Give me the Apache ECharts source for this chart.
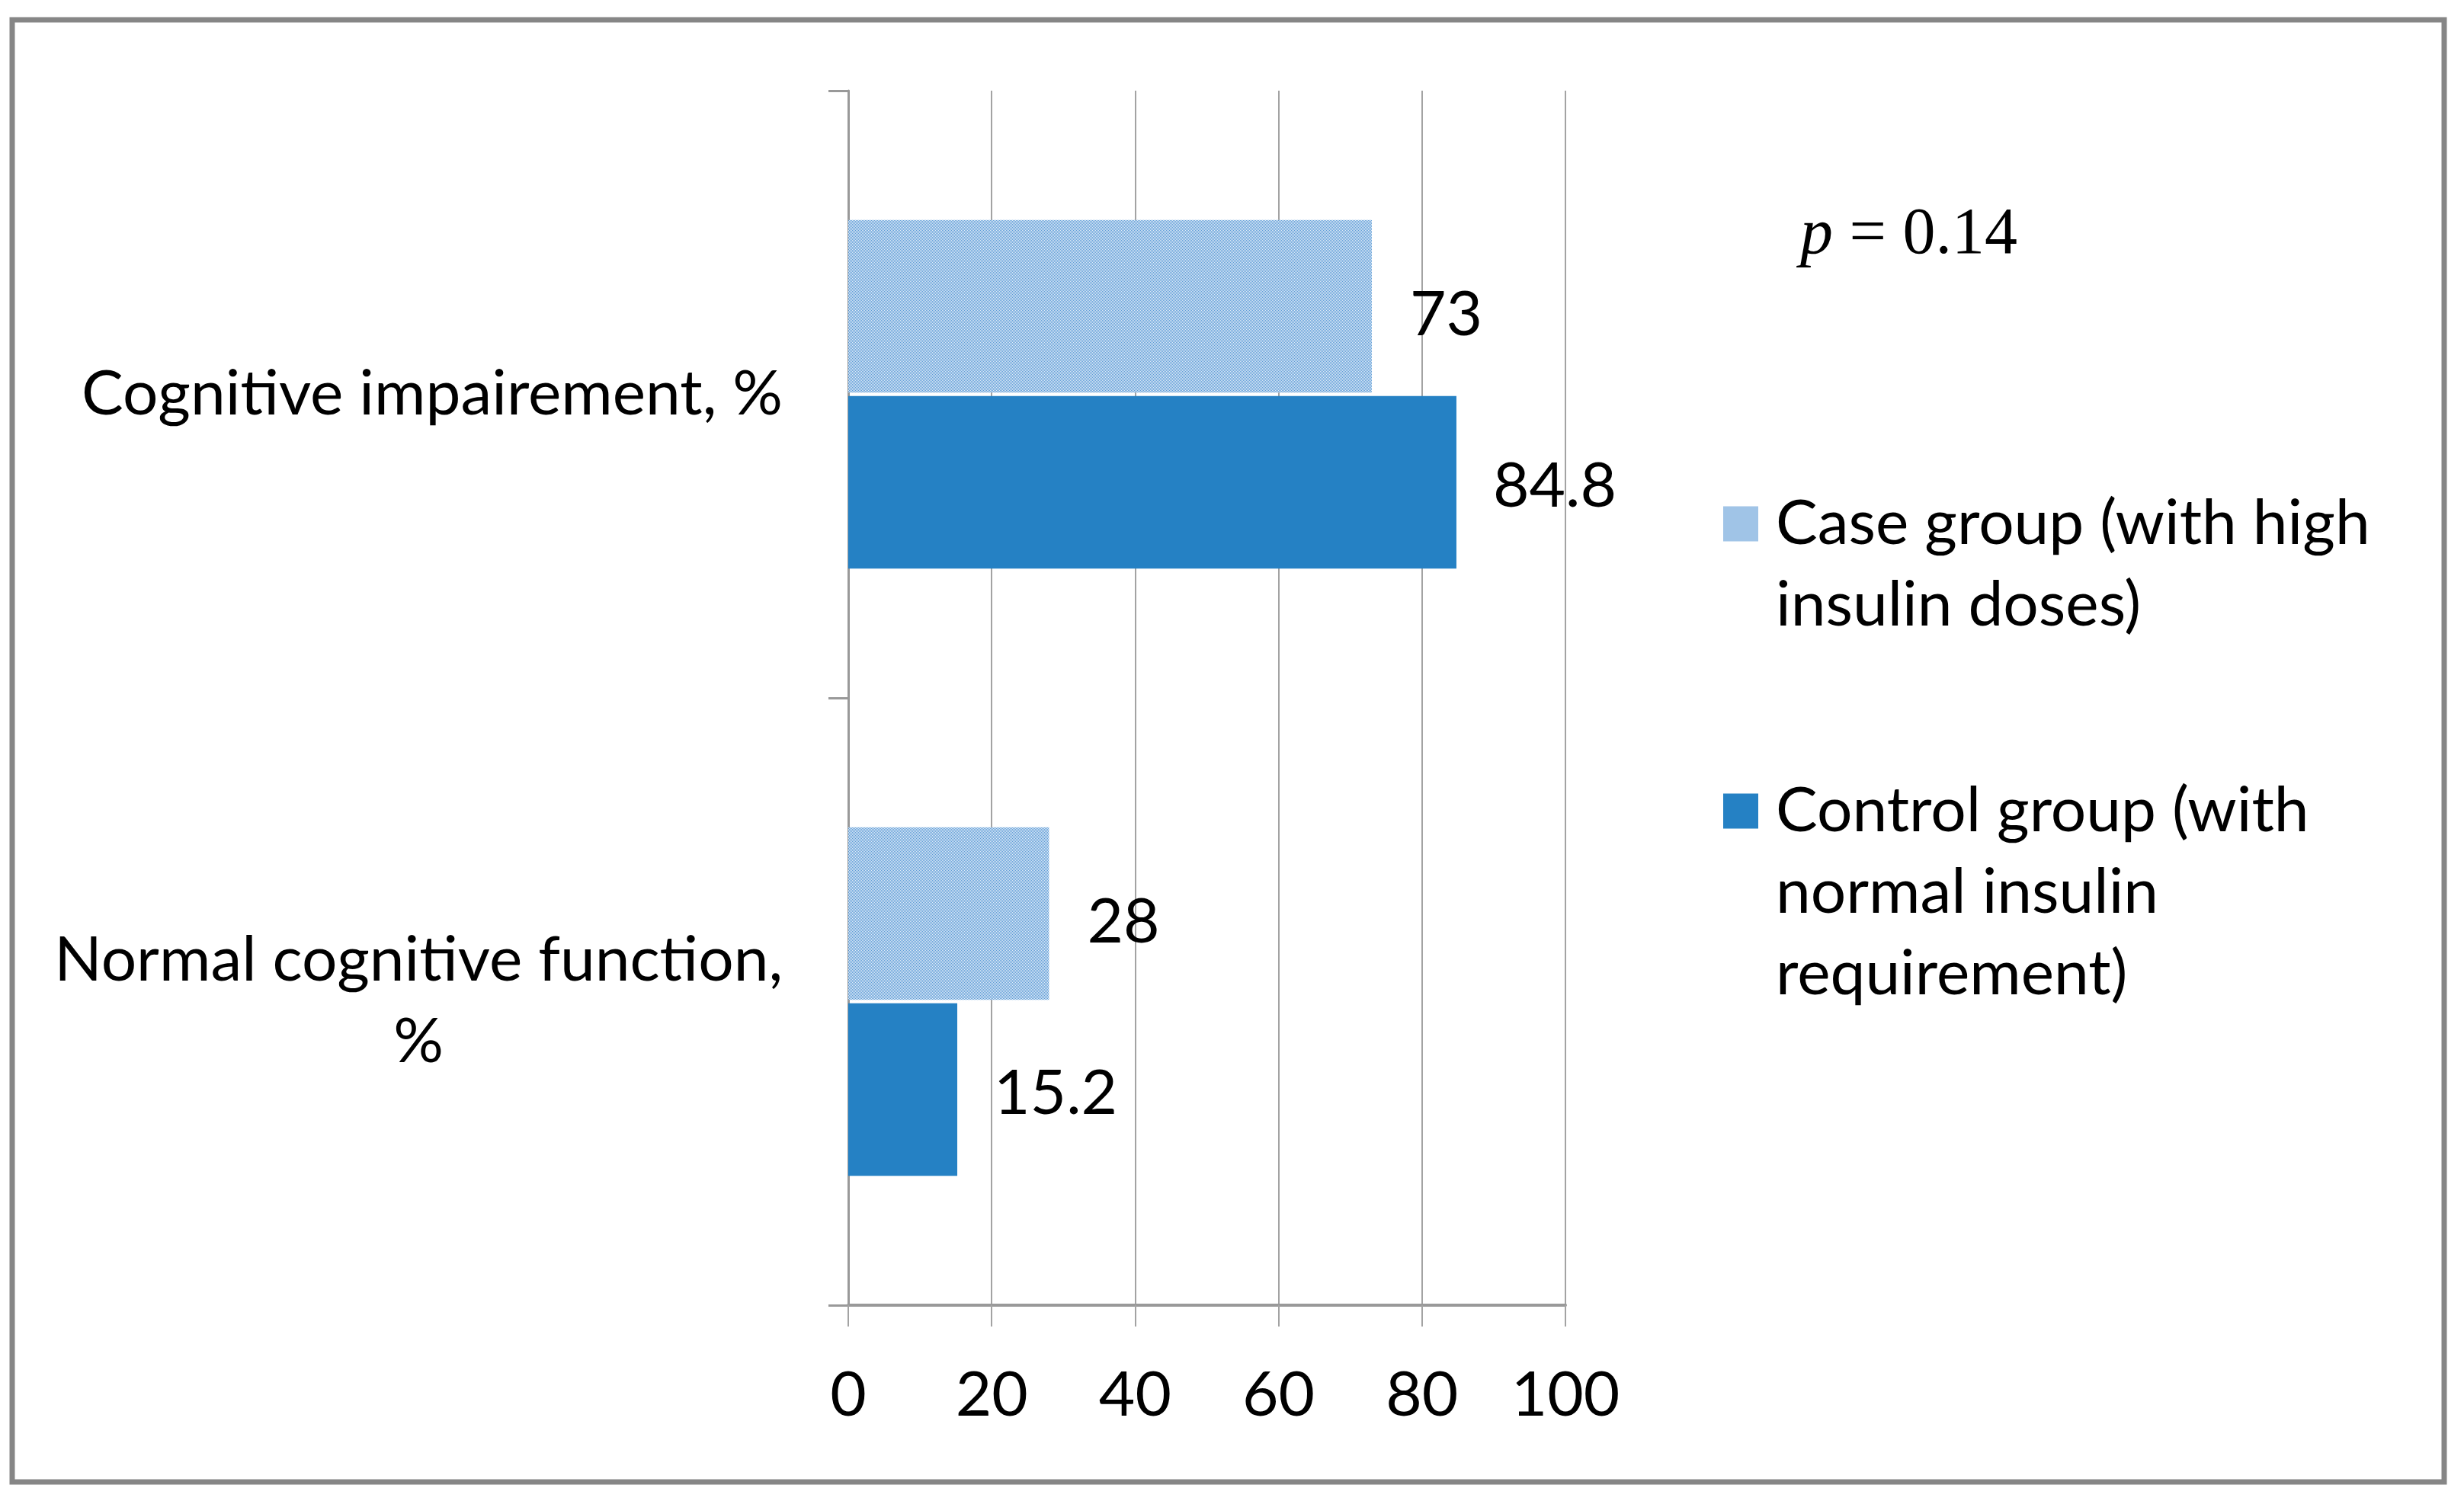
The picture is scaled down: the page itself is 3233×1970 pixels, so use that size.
<!DOCTYPE html>
<html>
<head>
<meta charset="utf-8">
<script src="https://cdn.jsdelivr.net/npm/echarts@6/dist/echarts.min.js"></script>
<style>
html,body{margin:0;padding:0;background:#fff;}
#c{width:3233px;height:1970px;}
</style>
</head>
<body>
<div id="c"></div>
<script>
// ---- data ----
var categories = ['Cognitive impairement, %', 'Normal cognitive function,\n%'];
var seriesNames = ['Case group (with high\ninsulin doses)', 'Control group (with\nnormal insulin\nrequirement)'];
var caseGroup = [73, 28];
var controlGroup = [84.8, 15.2];
var xMin = 0, xMax = 100, xStep = 20;
var pText = '0.14';

// ---- pattern for case group ----
function makePattern() {
  var cv = document.createElement('canvas');
  cv.width = 2; cv.height = 2;
  var ctx = cv.getContext('2d');
  ctx.fillStyle = '#e4eef9'; ctx.fillRect(0, 0, 2, 2);
  ctx.fillStyle = '#5c9bd6';
  ctx.fillRect(0, 0, 1, 1); ctx.fillRect(1, 1, 1, 1);
  return { image: cv, repeat: 'repeat' };
}
var casePattern = makePattern();
var controlColor = '#2581c4';

var FONT = 'Lato';
var FS = 82;
var LH = 107;

// measure widest line of each category label so that lines are centred within a right-aligned block
var mctx = document.createElement('canvas').getContext('2d');
mctx.font = FS + 'px ' + FONT;
function maxLineWidth(s) {
  return Math.max.apply(null, s.split('\n').map(function (l) { return mctx.measureText(l).width; }));
}
var yData = categories.map(function (c) {
  return { value: c, textStyle: { align: 'center', color: '#000', fontFamily: FONT, fontSize: FS, lineHeight: LH,
    padding: [0, maxLineWidth(c), 0, 0] } };
});

// blank leading lines so that the first text line sits level with the legend icon
function legendLabel(name) {
  var n = name.split('\n').length;
  return new Array(n).join('\n') + name;
}

var chart = echarts.init(document.getElementById('c'));
chart.setOption({
  backgroundColor: '#fff',
  animation: false,
  grid: { left: 1113, right: 1179, top: 119, bottom: 257, containLabel: false, outerBoundsMode: 'none' },
  xAxis: {
    type: 'value', min: xMin, max: xMax, interval: xStep,
    axisLine: { show: true, lineStyle: { color: '#999999', width: 4 } },
    axisTick: { show: true, length: 28, lineStyle: { color: '#a3a3a3', width: 2 } },
    splitLine: { show: true, lineStyle: { color: '#a3a3a3', width: 2 } },
    axisLabel: { margin: 78, color: '#000', fontFamily: FONT, fontSize: FS }
  },
  yAxis: {
    type: 'category', data: yData, inverse: true,
    axisLine: { show: true, lineStyle: { color: '#999999', width: 3 } },
    axisTick: { show: true, length: 26, lineStyle: { color: '#999999', width: 3 } },
    axisLabel: { margin: 86, color: '#000', fontFamily: FONT, fontSize: FS, lineHeight: LH, align: 'center' }
  },
  legend: [
    {
      data: [seriesNames[0]], orient: 'vertical', left: 2261, top: 527, padding: 0,
      itemWidth: 46, itemHeight: 46, icon: 'rect', formatter: legendLabel,
      textStyle: { color: '#000', fontFamily: FONT, fontSize: FS, lineHeight: LH, padding: [0, 0, 0, 18] }
    },
    {
      data: [seriesNames[1]], orient: 'vertical', left: 2261, top: 797, padding: 0,
      itemWidth: 46, itemHeight: 46, icon: 'rect', formatter: legendLabel,
      textStyle: { color: '#000', fontFamily: FONT, fontSize: FS, lineHeight: LH, padding: [0, 0, 0, 18] }
    }
  ],
  graphic: [
    { type: 'rect', shape: { x: 16, y: 26, width: 3191, height: 1919 }, style: { fill: 'none', stroke: '#868686', lineWidth: 7 }, silent: true },
    { type: 'text', left: 2362, top: 266,
      style: { text: '{i|p} = ' + pText, fontFamily: 'Liberation Serif', fontSize: 86, fill: '#000',
        rich: { i: { fontStyle: 'italic', fontFamily: 'Liberation Serif', fontSize: 86 } } } }
  ],
  series: [
    {
      name: seriesNames[0], type: 'bar', data: caseGroup,
      barGap: '2%', barCategoryGap: '42.6%',
      itemStyle: { color: casePattern },
      label: { show: true, position: 'right', distance: 50, offset: [0, 12], color: '#000', fontFamily: FONT, fontSize: FS }
    },
    {
      name: seriesNames[1], type: 'bar', data: controlGroup,
      barGap: '2%', barCategoryGap: '42.6%',
      itemStyle: { color: controlColor },
      label: { show: true, position: 'right', distance: 48, offset: [0, 6], color: '#000', fontFamily: FONT, fontSize: FS }
    }
  ]
});
</script>
</body>
</html>
